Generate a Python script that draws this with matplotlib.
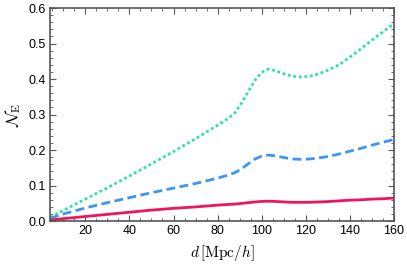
import matplotlib
matplotlib.use("Agg")
import matplotlib.pyplot as plt
from matplotlib.ticker import MultipleLocator

plt.rcParams['font.family'] = ['Liberation Sans', 'DejaVu Sans']
plt.rcParams['mathtext.fontset'] = 'cm'

# distance d in Mpc/h
d = [4, 10, 20, 30, 40, 50, 60, 70, 80, 85, 88, 91, 94, 97, 100, 103, 106,
     110, 114, 118, 122, 126, 130, 135, 140, 145, 150, 155, 160]

n_green = [0.012, 0.03, 0.062, 0.094, 0.127, 0.161, 0.196, 0.232, 0.27, 0.290,
           0.306, 0.334, 0.366, 0.397, 0.419, 0.428, 0.424, 0.415, 0.408, 0.406,
           0.408, 0.415, 0.425, 0.44, 0.462, 0.485, 0.51, 0.533, 0.556]
n_blue = [0.008, 0.02, 0.037, 0.052, 0.066, 0.08, 0.093, 0.106, 0.121, 0.13,
          0.137, 0.148, 0.162, 0.175, 0.183, 0.186, 0.184, 0.179, 0.175, 0.174,
          0.175, 0.178, 0.182, 0.189, 0.197, 0.205, 0.214, 0.222, 0.23]
n_red = [0.003, 0.007, 0.013, 0.019, 0.025, 0.031, 0.036, 0.04, 0.045, 0.047,
         0.048, 0.05, 0.052, 0.054, 0.0555, 0.056, 0.0555, 0.054, 0.053, 0.053,
         0.053, 0.054, 0.055, 0.057, 0.059, 0.06, 0.062, 0.063, 0.065]

fig = plt.figure(figsize=(4.07, 2.69), dpi=100)
ax = fig.add_axes([0.123, 0.178, 0.845, 0.792])

ax.plot(d, n_green, color='#2ee3a2', lw=2.0, ls=(0, (1.0, 1.0)))
ax.plot(d, n_blue, color='#3a96f2', lw=2.0, ls=(0, (3.2, 1.6)))
ax.plot(d, n_red, color='#f0145c', lw=2.0)

ax.set_xlim(4, 160)
ax.set_ylim(0, 0.6)
ax.xaxis.set_major_locator(MultipleLocator(20))
ax.xaxis.set_minor_locator(MultipleLocator(5))
ax.yaxis.set_major_locator(MultipleLocator(0.1))
ax.yaxis.set_minor_locator(MultipleLocator(0.02))
ax.yaxis.set_major_formatter(plt.FuncFormatter(lambda v, p: f"{v:.1f}"))

for s in ax.spines.values():
    s.set_color('#555555')
    s.set_linewidth(1.2)
ax.tick_params(which='both', direction='in', top=True, right=True,
               color='#555555', labelsize=9, pad=3)
ax.tick_params(which='major', length=4, width=0.8)
ax.tick_params(which='minor', length=2.2, width=0.6)

ax.set_xlabel(r'$d\,[\mathrm{Mpc}/h]$', fontsize=11, labelpad=4)
ax.set_ylabel(r'$\mathcal{N}_{\mathrm{E}}$', fontsize=12, labelpad=4)

fig.savefig('out.png', dpi=100)
